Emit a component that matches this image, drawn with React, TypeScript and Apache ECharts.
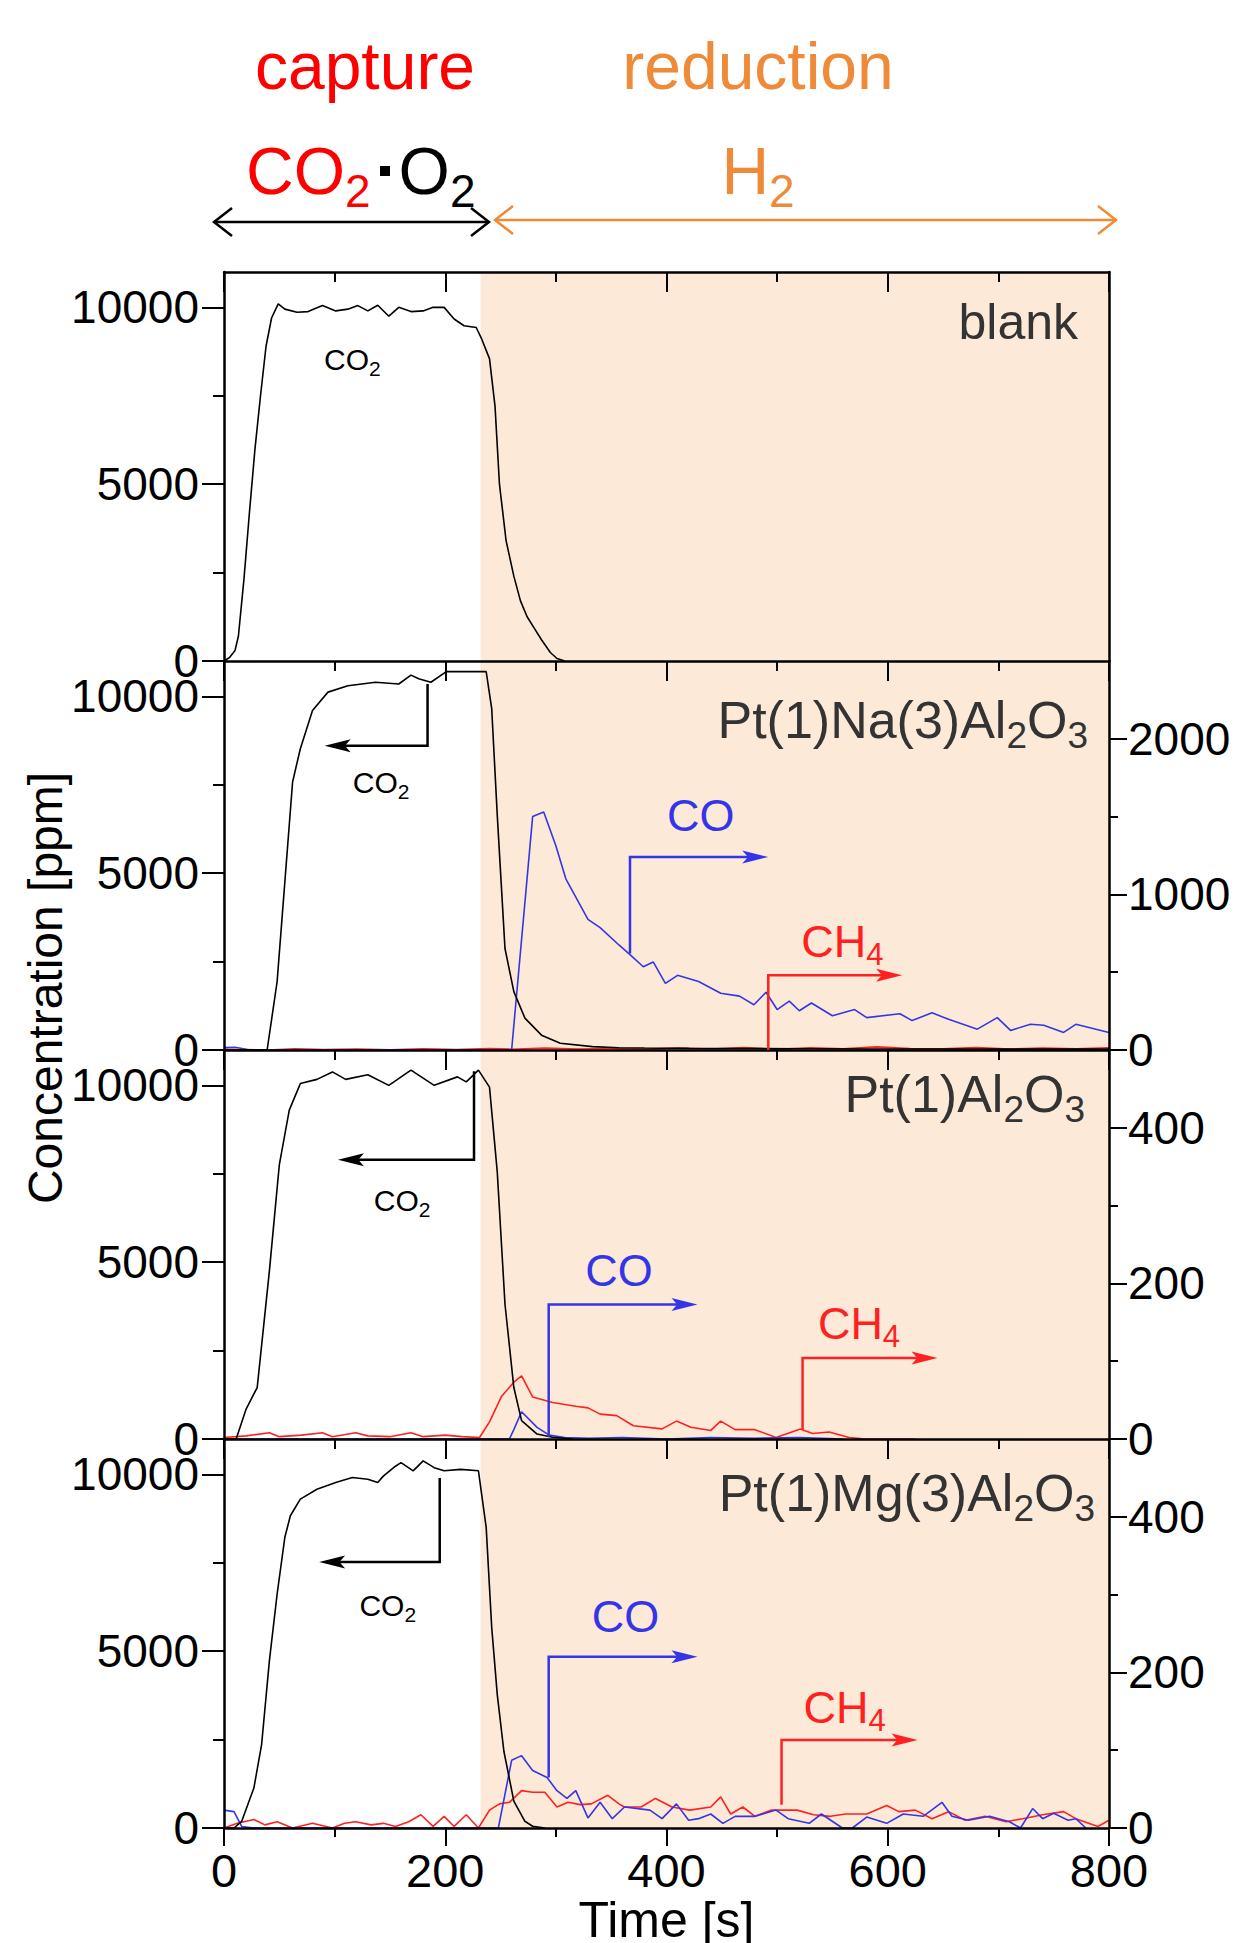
import React, { useEffect, useRef } from "react";
import * as echarts from "echarts";

const CHART_W = 1243;
const CHART_H = 1943;
const FONT = "'Liberation Sans', Arial, Helvetica, sans-serif";

const BLACK = "#000000";
const BLUE = "#3535E8";
const RED = "#FF2020";
const ORANGE = "#EE8A38";
const TEXT_GRAY = "#333333";
const SHADE = "#FCE9D8";

// ---------------- axes / ticks ----------------
const TIME_MIN = 0;
const TIME_MAX = 800;
const TIME_STEP = 200;
const REDUCTION_START = 232;
const LEFT_MAX = 11000;
const LEFT_STEP = 5000;
const LEFT_TICKS = [0, 5000, 10000];
const RIGHT_MAX = [1, 2500, 500, 500];
const RIGHT_STEP = [1, 1000, 200, 200];
const RIGHT_TICKS: number[][] = [[], [0, 1000, 2000], [0, 200, 400], [0, 200, 400]];

const PANEL_LABELS = [
  "{m|blank}",
  "{m|Pt(1)Na(3)Al}{s|2}{m|O}{s|3}",
  "{m|Pt(1)Al}{s|2}{m|O}{s|3}",
  "{m|Pt(1)Mg(3)Al}{s|2}{m|O}{s|3}",
];

// ---------------- data: [time (s), concentration (ppm)] ----------------
const blankCO2: [number, number][] = [
  [0, 0], [5, 100], [10, 300], [13, 700], [18, 2300], [23, 4200], [28, 6000], [33, 7500],
  [38, 8900], [43, 9700], [49, 10100], [55, 9950], [66, 9860], [76, 9880], [89, 10050],
  [101, 9900], [112, 9950], [121, 10050], [130, 9900], [139, 10060], [149, 9750], [158, 10000],
  [169, 9880], [180, 9900], [189, 10000], [199, 10000], [208, 9670], [217, 9480], [228, 9430],
  [233, 9100], [240, 8550], [245, 7200], [249, 5000], [255, 3400], [262, 2400], [268, 1700],
  [274, 1250], [280, 950], [287, 600], [295, 240], [301, 70], [308, 0],
];

const naCO2: [number, number][] = [
  [0, 0], [39, 0], [48, 1930], [55, 4750], [62, 7580], [69, 8520], [80, 9600], [94, 10120],
  [112, 10300], [137, 10400], [158, 10350], [169, 10600], [176, 10500], [187, 10400],
  [201, 10700], [237, 10700], [242, 9650], [247, 6650], [254, 2870], [262, 1650], [272, 900],
  [287, 420], [304, 190], [333, 95], [357, 65], [380, 55], [420, 45], [460, 40], [520, 35],
  [580, 30], [650, 28], [720, 25], [800, 25],
];
const naCO: [number, number][] = [
  [0, 15], [10, 18], [20, 5], [22, 0], [260, 0], [279, 1500], [289, 1530], [300, 1312],
  [309, 1100], [329, 840], [340, 786], [357, 675], [368, 606], [379, 535], [388, 566],
  [399, 428], [410, 480], [429, 440], [449, 365], [466, 346], [479, 291], [490, 371],
  [500, 260], [511, 314], [520, 252], [531, 302], [550, 220], [570, 260], [581, 208],
  [611, 233], [622, 189], [640, 239], [655, 197], [681, 134], [699, 208], [711, 126],
  [729, 165], [741, 159], [759, 113], [770, 165], [800, 113],
];
const naCH4: [number, number][] = [
  [0, 5], [20, 3], [40, 0], [64, 8], [90, 3], [120, 6], [150, 2], [180, 8], [210, 3],
  [240, 10], [260, 5], [290, 12], [320, 6], [350, 10], [380, 4], [410, 12], [440, 6],
  [470, 15], [500, 5], [530, 14], [560, 8], [590, 20], [620, 10], [650, 8], [680, 15],
  [710, 6], [740, 12], [770, 8], [800, 14],
];

const ptCO2: [number, number][] = [
  [0, 0], [11, 0], [20, 845], [30, 1455], [41, 4740], [50, 7750], [59, 9300], [69, 10050],
  [84, 10170], [98, 10380], [110, 10170], [130, 10300], [149, 10000], [169, 10430],
  [190, 10000], [211, 10240], [219, 10100], [230, 10430], [240, 9950], [247, 7560],
  [254, 3810], [262, 1455], [269, 520], [283, 140], [297, 50], [315, 0],
];
const ptCO: [number, number][] = [
  [0, 0], [258, 0], [262, 12], [269, 35], [283, 15], [294, 5], [308, 2], [330, 1],
  [360, 2], [400, 0], [440, 2], [480, 1], [520, 2], [560, 0],
];
const ptCH4: [number, number][] = [
  [0, 2], [20, 4], [41, 8], [50, 3], [70, 5], [89, 8], [98, 3], [119, 8], [130, 4],
  [150, 3], [169, 8], [180, 3], [200, 5], [215, 3], [231, 2], [240, 22], [251, 55],
  [262, 73], [269, 81], [279, 54], [297, 47], [318, 42], [329, 40], [340, 32], [355, 30],
  [370, 17], [396, 13], [409, 23], [422, 15], [440, 11], [449, 23], [462, 12], [480, 12],
  [499, 2], [521, 13], [532, 7], [547, 9], [565, 2], [580, 0], [600, 0], [625, 0],
];

const mgCO2: [number, number][] = [
  [0, 0], [9, 0], [16, 190], [27, 1130], [34, 2360], [41, 4720], [48, 6610], [55, 8220],
  [60, 8830], [69, 9300], [84, 9580], [101, 9770], [116, 9910], [130, 9860], [139, 9770],
  [144, 9950], [155, 10230], [160, 10330], [171, 10100], [180, 10380], [190, 10190],
  [199, 10100], [214, 10140], [230, 10100], [237, 8500], [242, 5670], [247, 3780],
  [253, 2170], [262, 760], [272, 190], [279, 50], [290, 0],
];
const mgCO: [number, number][] = [
  [0, 23], [9, 21], [16, 2], [27, 0], [248, 0], [260, 87], [269, 93], [279, 74], [292, 65],
  [301, 48], [310, 38], [318, 48], [329, 13], [340, 33], [351, 12], [362, 27], [385, 23],
  [396, 12], [409, 31], [420, 10], [429, 12], [440, 18], [451, 6], [462, 15], [480, 15],
  [499, 23], [510, 12], [529, 6], [540, 18], [559, 0], [568, 0], [581, 14], [599, 6],
  [614, 18], [632, 15], [649, 33], [658, 15], [673, 10], [692, 15], [710, 8], [720, 0],
  [731, 25], [740, 12], [750, 19], [763, 10], [770, 12], [779, 0],
];
const mgCH4: [number, number][] = [
  [0, 0], [12, 6], [27, 11], [37, 4], [48, 8], [62, 0], [80, 6], [98, 0], [109, 6],
  [119, 8], [133, 4], [144, 6], [155, 2], [167, 8], [178, 17], [189, 2], [199, 15],
  [208, 2], [219, 17], [230, 0], [240, 23], [249, 31], [258, 33], [269, 48], [279, 46],
  [290, 46], [301, 27], [311, 33], [322, 30], [332, 31], [347, 42], [357, 31], [362, 27],
  [377, 27], [390, 38], [405, 27], [421, 23], [440, 27], [449, 40], [458, 18], [469, 27],
  [480, 15], [495, 23], [518, 23], [533, 17], [548, 15], [562, 18], [581, 18], [599, 29],
  [610, 21], [625, 23], [640, 12], [655, 21], [670, 10], [688, 15], [707, 8], [722, 12],
  [740, 17], [759, 21], [770, 12], [790, 2], [800, 10],
];

const CO2_SERIES = [blankCO2, naCO2, ptCO2, mgCO2];
const CO_SERIES: ([number, number][] | null)[] = [null, naCO, ptCO, mgCO];
const CH4_SERIES: ([number, number][] | null)[] = [null, naCH4, ptCH4, mgCH4];

// ---------------- annotations (data coordinates) ----------------
type Bracket = { panel: number; axis: "L" | "R"; color: string; path: [number, number][] };
const BRACKETS: Bracket[] = [
  { panel: 1, axis: "L", color: BLACK, path: [[184, 10350], [184, 8600], [91, 8600]] },
  { panel: 1, axis: "R", color: BLUE, path: [[367, 620], [367, 1240], [492, 1240]] },
  { panel: 1, axis: "R", color: RED, path: [[492, 0], [492, 480], [613, 480]] },
  { panel: 2, axis: "L", color: BLACK, path: [[226, 10400], [226, 7900], [103, 7900]] },
  { panel: 2, axis: "R", color: BLUE, path: [[293.5, 3], [293.5, 173], [428, 173]] },
  { panel: 2, axis: "R", color: RED, path: [[523, 12], [523, 104], [645, 104]] },
  { panel: 3, axis: "L", color: BLACK, path: [[195, 9900], [195, 7520], [86, 7520]] },
  { panel: 3, axis: "R", color: BLUE, path: [[293.5, 65], [293.5, 220], [428, 220]] },
  { panel: 3, axis: "R", color: RED, path: [[504, 30], [504, 113], [627, 113]] },
];
type Tag = { panel: number; axis: "L" | "R"; t: number; v: number; text: string; size: number; color: string };
const CO2_TXT = "{m|CO}{s|2}";
const CO_TXT = "{m|CO}";
const CH4_TXT = "{m|CH}{s|4}";
const TAGS: Tag[] = [
  { panel: 0, axis: "L", t: 116, v: 8520, text: CO2_TXT, size: 30, color: BLACK },
  { panel: 1, axis: "L", t: 142, v: 7570, text: CO2_TXT, size: 30, color: BLACK },
  { panel: 1, axis: "R", t: 431, v: 1510, text: CO_TXT, size: 45, color: BLUE },
  { panel: 1, axis: "R", t: 559, v: 700, text: CH4_TXT, size: 45, color: RED },
  { panel: 2, axis: "L", t: 161, v: 6740, text: CO2_TXT, size: 30, color: BLACK },
  { panel: 2, axis: "R", t: 357, v: 217, text: CO_TXT, size: 45, color: BLUE },
  { panel: 2, axis: "R", t: 574, v: 149, text: CH4_TXT, size: 45, color: RED },
  { panel: 3, axis: "L", t: 148, v: 6300, text: CO2_TXT, size: 30, color: BLACK },
  { panel: 3, axis: "R", t: 363, v: 272, text: CO_TXT, size: 45, color: BLUE },
  { panel: 3, axis: "R", t: 561, v: 155, text: CH4_TXT, size: 45, color: RED },
];

// ---------------- layout ----------------
const GRID_LEFT = 224;
const GRID_WIDTH = 885;
const GRID_TOPS = [272, 661, 1050, 1439];
const GRID_H = 389;
const LABEL_POS: [number, number][] = [[1078, 322], [1088, 720], [1085, 1094], [1095, 1493]];

const lineSty = { color: BLACK, width: 2.5 };
const tickSty = { color: BLACK, width: 2 };
const plain = (v: number) => String(v);

function richSub(F: number, color: string, subScale = 0.7) {
  return {
    m: { fontSize: F, fontFamily: FONT, fill: color },
    s: { fontSize: Math.round(F * subScale), fontFamily: FONT, fill: color, padding: [Math.round(F * 0.6), 0, 0, 0] },
  };
}

function buildOption(): any {
  const grid = GRID_TOPS.map((top) => ({
    left: GRID_LEFT, top, width: GRID_WIDTH, height: GRID_H, show: false, outerBoundsMode: "none",
  }));
  const xAxis: any[] = GRID_TOPS.map((_, i) => ({
    type: "value", gridIndex: i, position: "top", min: TIME_MIN, max: TIME_MAX, interval: TIME_STEP, z: 10,
    axisLine: { show: true, onZero: false, lineStyle: lineSty },
    axisTick: { show: true, inside: true, length: 20, lineStyle: tickSty },
    minorTick: { show: true, splitNumber: 2, length: 10, lineStyle: tickSty },
    axisLabel: { show: false }, splitLine: { show: false }, minorSplitLine: { show: false },
  }));
  xAxis.push({
    type: "value", gridIndex: 3, position: "bottom", min: TIME_MIN, max: TIME_MAX, interval: TIME_STEP, z: 10,
    axisLine: { show: true, onZero: false, lineStyle: lineSty },
    axisTick: { show: true, inside: false, length: 18, lineStyle: tickSty },
    minorTick: { show: true, splitNumber: 2, length: 9, lineStyle: tickSty },
    axisLabel: { show: true, margin: 19, fontSize: 47, fontFamily: FONT, color: BLACK, formatter: plain },
    splitLine: { show: false }, minorSplitLine: { show: false },
    name: "Time [s]", nameLocation: "middle", nameGap: 57,
    nameTextStyle: { fontSize: 50, fontFamily: FONT, color: BLACK },
  });

  const yAxis: any[] = GRID_TOPS.map((_, i) => ({
    type: "value", gridIndex: i, position: "left", min: 0, max: LEFT_MAX, interval: LEFT_STEP, z: 10,
    axisLine: { show: true, onZero: false, lineStyle: lineSty },
    axisTick: { show: true, inside: false, length: 22, customValues: LEFT_TICKS, lineStyle: tickSty },
    minorTick: { show: true, splitNumber: 2, length: 11, lineStyle: tickSty },
    axisLabel: { show: true, customValues: LEFT_TICKS, margin: 25, fontSize: 46, fontFamily: FONT, color: BLACK, formatter: plain },
    splitLine: { show: false }, minorSplitLine: { show: false },
  }));
  GRID_TOPS.forEach((_, i) => {
    if (i === 0) {
      yAxis.push({
        type: "value", gridIndex: 0, position: "right", min: 0, max: RIGHT_MAX[0], z: 10,
        axisLine: { show: true, onZero: false, lineStyle: lineSty },
        axisTick: { show: false }, axisLabel: { show: false }, splitLine: { show: false },
      });
    } else {
      yAxis.push({
        type: "value", gridIndex: i, position: "right", min: 0, max: RIGHT_MAX[i], interval: RIGHT_STEP[i], z: 10,
        axisLine: { show: true, onZero: false, lineStyle: lineSty },
        axisTick: { show: true, inside: false, length: 18, customValues: RIGHT_TICKS[i], lineStyle: tickSty },
        minorTick: { show: true, splitNumber: 2, length: 9, lineStyle: tickSty },
        axisLabel: { show: true, customValues: RIGHT_TICKS[i], margin: 19, fontSize: 46, fontFamily: FONT, color: BLACK, formatter: plain },
        splitLine: { show: false }, minorSplitLine: { show: false },
      });
    }
  });

  const series: any[] = [];
  GRID_TOPS.forEach((_, i) => {
    series.push({
      type: "line", xAxisIndex: i, yAxisIndex: i, data: [[TIME_MAX, 0]], symbol: "none", silent: true, z: 1,
      lineStyle: { width: 0, opacity: 0 },
      markArea: {
        silent: true, itemStyle: { color: SHADE, opacity: 1 },
        data: [[{ xAxis: REDUCTION_START }, { xAxis: TIME_MAX }]],
      },
    });
    const base = { type: "line", xAxisIndex: i, symbol: "none", showSymbol: false, silent: true, z: 3 };
    const ch4 = CH4_SERIES[i];
    if (ch4) series.push({ ...base, name: "CH4", yAxisIndex: 4 + i, data: ch4, lineStyle: { color: RED, width: 1.6 } });
    const co = CO_SERIES[i];
    if (co) series.push({ ...base, name: "CO", yAxisIndex: 4 + i, data: co, lineStyle: { color: BLUE, width: 1.6 } });
    series.push({ ...base, name: "CO2", yAxisIndex: i, data: CO2_SERIES[i], lineStyle: { color: BLACK, width: 1.6 } });
  });

  return {
    animation: false,
    backgroundColor: "#ffffff",
    grid, xAxis, yAxis, series,
  };
}

function chevron(x: number, y: number, dir: number, color: string) {
  return {
    type: "polyline", z: 100,
    shape: { points: [[x - dir * 18, y - 14], [x, y], [x - dir * 18, y + 14]] },
    style: { stroke: color, lineWidth: 2.5, fill: "none" },
  };
}

function buildGraphics(toPx: (p: number, a: "L" | "R", t: number, v: number) => number[]) {
  const g: any[] = [];
  // header texts
  g.push({ type: "text", z: 100, x: 365, y: 66, style: { text: "capture", fontSize: 66, fontFamily: FONT, fill: "#FF0000", align: "center", verticalAlign: "middle" } });
  g.push({ type: "text", z: 100, x: 758, y: 66, style: { text: "reduction", fontSize: 66, fontFamily: FONT, fill: ORANGE, align: "center", verticalAlign: "middle" } });
  const red = richSub(66, "#FF0000");
  const blk = richSub(66, BLACK);
  g.push({
    type: "text", z: 100, x: 246, y: 171,
    style: {
      text: "{r|CO}{rs|2}{sp| }{k|O}{ks|2}", align: "left", verticalAlign: "middle",
      rich: { r: red.m, rs: red.s, sp: { fontSize: 20, fontFamily: FONT, width: 28 }, k: blk.m, ks: blk.s },
    },
  });
  g.push({ type: "rect", z: 100, shape: { x: 380, y: 166, width: 10, height: 10 }, style: { fill: BLACK } });
  g.push({
    type: "text", z: 100, x: 758, y: 171,
    style: { text: "{m|H}{s|2}", align: "center", verticalAlign: "middle", rich: richSub(66, ORANGE) },
  });
  // phase arrows
  g.push({ type: "line", z: 100, shape: { x1: 214, y1: 222, x2: 489, y2: 222 }, style: { stroke: BLACK, lineWidth: 2.5 } });
  g.push(chevron(214, 222, -1, BLACK));
  g.push(chevron(489, 222, 1, BLACK));
  g.push({ type: "line", z: 100, shape: { x1: 495, y1: 220, x2: 1116, y2: 220 }, style: { stroke: ORANGE, lineWidth: 2.5 } });
  g.push(chevron(495, 220, -1, ORANGE));
  g.push(chevron(1116, 220, 1, ORANGE));

  // y-axis title
  g.push({
    type: "text", z: 100, x: 45, y: 988, rotation: Math.PI / 2,
    style: { text: "Concentration [ppm]", fontSize: 48, fontFamily: FONT, fill: BLACK, align: "center", verticalAlign: "middle" },
  });

  // panel labels
  PANEL_LABELS.forEach((txt, i) => {
    g.push({
      type: "text", z: 100, x: LABEL_POS[i][0], y: LABEL_POS[i][1],
      style: { text: txt, align: "right", verticalAlign: "middle", rich: richSub(i === 0 ? 50 : 52, TEXT_GRAY, 0.72) },
    });
  });

  // brackets with arrows
  BRACKETS.forEach((b) => {
    const pts = b.path.map(([t, v]) => toPx(b.panel, b.axis, t, v));
    if (pts.some((p) => !p)) return;
    const tip = pts[2];
    const dir = Math.sign(tip[0] - pts[1][0]);
    const L = 26, h = 6.5;
    g.push({
      type: "polyline", z: 100,
      shape: { points: [pts[0], pts[1], [tip[0] - dir * L * 0.6, tip[1]]] },
      style: { stroke: b.color, lineWidth: 2.5, fill: "none" },
    });
    g.push({
      type: "polygon", z: 101,
      shape: { points: [[tip[0], tip[1]], [tip[0] - dir * L, tip[1] - h], [tip[0] - dir * L * 0.78, tip[1]], [tip[0] - dir * L, tip[1] + h]] },
      style: { fill: b.color },
    });
  });

  TAGS.forEach((tg) => {
    const p = toPx(tg.panel, tg.axis, tg.t, tg.v);
    if (!p) return;
    g.push({
      type: "text", z: 100, x: p[0], y: p[1],
      style: { text: tg.text, align: "center", verticalAlign: "middle", rich: richSub(tg.size, tg.color) },
    });
  });
  return g;
}

export default function App() {
  const ref = useRef<HTMLDivElement>(null);
  useEffect(() => {
    document.body.style.margin = "0";
    const el = ref.current;
    if (!el) return;
    const chart = echarts.init(el, null, { renderer: "svg" });
    chart.setOption(buildOption());
    const toPx = (panel: number, axis: "L" | "R", t: number, v: number) =>
      chart.convertToPixel({ xAxisIndex: panel, yAxisIndex: axis === "L" ? panel : 4 + panel } as any, [t, v]) as number[];
    chart.setOption({ graphic: buildGraphics(toPx) });
    return () => chart.dispose();
  }, []);
  return <div ref={ref} style={{ width: CHART_W, height: CHART_H }} />;
}
